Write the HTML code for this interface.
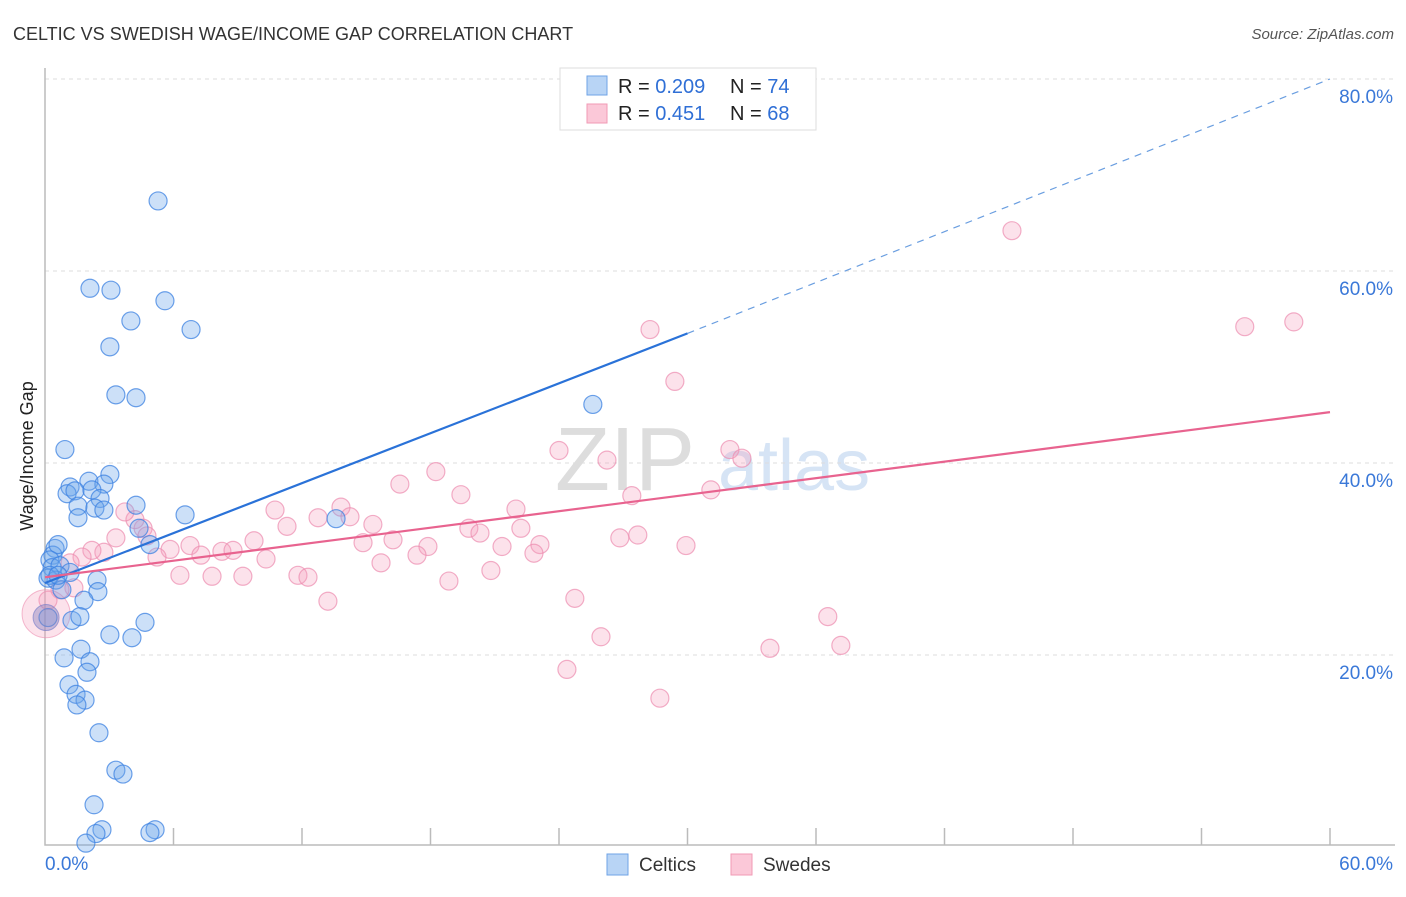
<!DOCTYPE html>
<html><head><meta charset="utf-8"><style>
body{margin:0;background:#fff;font-family:"Liberation Sans",sans-serif;}
svg text{font-family:"Liberation Sans",sans-serif;}
</style></head><body>
<svg id="chart" width="1406" height="892" viewBox="0 0 1406 892">
<text x="13" y="40" font-size="18" fill="#333">CELTIC VS SWEDISH WAGE/INCOME GAP CORRELATION CHART</text>
<text x="1394" y="39" font-size="15" fill="#555" font-style="italic" text-anchor="end">Source: ZipAtlas.com</text>
<text x="33" y="456" font-size="18" fill="#222" text-anchor="middle" transform="rotate(-90 33 456)">Wage/Income Gap</text>
<g><text x="555" y="490" font-size="90" fill="#ddd" font-family="Liberation Serif">ZIP</text><text x="718" y="490" font-size="72" fill="#d6e4f5">atlas</text></g>
<g id="grid"></g><g id="axes"></g><g id="pts"></g><g id="lines"></g>
<g>
<rect x="560" y="68" width="256" height="62" fill="#fff" stroke="#ddd"/>
<rect x="587" y="76" width="20" height="19" fill="#b8d4f5" stroke="#6fa3e6"/>
<rect x="587" y="104" width="20" height="19" fill="#fbc8d8" stroke="#f09ab5"/>
<text x="618" y="93" font-size="20" fill="#222">R = <tspan fill="#2f6fd6">0.209</tspan></text>
<text x="730" y="93" font-size="20" fill="#222">N = <tspan fill="#2f6fd6">74</tspan></text>
<text x="618" y="120" font-size="20" fill="#222">R =  <tspan fill="#2f6fd6">0.451</tspan></text>
<text x="730" y="120" font-size="20" fill="#222">N = <tspan fill="#2f6fd6">68</tspan></text>
</g>
<g>
<rect x="607" y="854" width="21" height="21" fill="#b8d4f5" stroke="#6fa3e6"/>
<text x="639" y="871" font-size="19" fill="#333">Celtics</text>
<rect x="731" y="854" width="21" height="21" fill="#fbc8d8" stroke="#f09ab5"/>
<text x="763" y="871" font-size="19" fill="#333">Swedes</text>
</g>
</svg>
<script>
const yTicks=[20,40,60,80];
const yTickLabels=["20.0%","40.0%","60.0%","80.0%"];
const xTickLabels=["0.0%","60.0%"];
const blueX=[5.28,2.10,3.08,5.60,4.01,6.82,3.03,3.31,4.25,0.93,3.03,2.05,2.75,1.17,1.03,1.40,2.19,2.57,1.54,2.33,2.75,4.25,1.54,6.54,4.39,4.90,13.59,25.58,0.47,0.37,0.61,0.23,0.33,0.70,0.14,0.51,1.17,0.79,2.43,2.47,1.82,1.26,1.63,3.03,4.06,4.67,1.68,0.89,2.10,1.96,1.12,1.45,1.87,1.49,2.52,3.31,3.64,2.29,2.66,2.38,5.14,4.90,1.91,0.14,0.23,0.61];
const blueY=[67.3,58.2,58.0,56.9,54.8,53.9,52.1,47.1,46.8,41.4,38.8,38.1,37.8,37.5,36.8,37.1,37.2,36.3,35.5,35.3,35.1,35.6,34.3,34.6,33.2,31.5,34.2,46.1,31.1,30.4,31.5,29.9,29.1,29.3,28.0,27.8,28.6,26.8,27.8,26.6,25.7,23.6,24.0,22.1,21.8,23.4,20.6,19.7,19.3,18.2,16.9,15.9,15.3,14.8,11.9,8.0,7.6,4.4,1.8,1.4,1.8,1.5,0.4,23.9,28.3,28.3];
const pinkX=[45.15,28.25,56.02,58.31,29.41,24.0,31.98,32.54,26.24,18.25,16.57,19.42,27.40,31.09,21.99,13.82,10.74,14.24,12.75,11.30,15.31,19.79,22.22,20.31,27.68,26.84,23.11,29.93,21.34,17.88,14.85,16.25,17.37,22.83,9.76,6.77,5.84,7.28,8.26,8.78,10.32,15.69,5.23,4.58,4.76,4.20,3.73,3.31,2.75,2.19,1.73,1.17,1.35,6.30,7.80,9.24,11.81,12.28,18.86,20.82,13.21,24.74,25.96,33.85,36.55,37.16,24.37,28.71,0.70,0.14];
const pinkY=[64.2,53.9,54.2,54.7,48.5,41.3,41.4,40.5,40.3,39.1,37.8,36.7,36.6,37.2,35.2,35.4,35.1,34.4,34.3,33.4,33.6,33.2,33.2,32.7,32.5,32.2,31.5,31.4,31.3,31.3,31.7,32.0,30.4,30.6,31.9,31.4,31.0,30.4,30.8,30.9,30.0,29.6,30.2,33.2,32.4,34.1,34.9,32.2,30.7,30.9,30.2,29.6,27.0,28.3,28.2,28.2,28.3,28.1,27.7,28.8,25.6,25.9,21.9,20.7,24.0,21.0,18.5,15.5,26.8,25.7];
const blueTrend=[27.5,53.5,80];   // y at x=0, 30, 60
const pinkTrend=[28.1,45.3];      // y at x=0, 60
const NS="http://www.w3.org/2000/svg";
const X=v=>45+v*(1285/60);
const Y=v=>847-v*9.6;
function mk(tag,attrs,parent){const e=document.createElementNS(NS,tag);for(const k in attrs)e.setAttribute(k,attrs[k]);parent.appendChild(e);return e;}
const grid=document.getElementById('grid'),axes=document.getElementById('axes'),pts=document.getElementById('pts'),lines=document.getElementById('lines');
yTicks.forEach((t,i)=>{
 const l=mk('line',{x1:45,x2:1395,y1:Y(t),y2:Y(t),stroke:'#ddd','stroke-dasharray':'4,4'},grid);
 
 
 const tx=mk('text',{x:1393,y:Y(t)+24,'font-size':19,fill:'#3a78d8','text-anchor':'end'},grid);
 tx.textContent=yTickLabels[i];
 
 
});
const ax=mk('path',{d:'M45 68V845H1395',fill:'none',stroke:'#bbb','stroke-width':1.5},axes);


for(let i=1;i<=10;i++){
 const t=mk('line',{x1:X(i*6),x2:X(i*6),y1:828,y2:845,stroke:'#bbb','stroke-width':1.5},axes);
 
 
}
[[0,'start',45],[60,'end',1393]].forEach((d,i)=>{
 const tx=mk('text',{x:d[2],y:870,'font-size':19,fill:'#3a78d8','text-anchor':d[1]},axes);
 tx.textContent=xTickLabels[i];
 
 
});
pinkX.forEach((x,i)=>{
 const c=mk('circle',{cx:X(x),cy:Y(pinkY[i]),r:9,fill:'rgba(244,160,190,0.3)',stroke:'rgba(236,140,175,0.7)','stroke-width':1.2},pts);
 
 
});
const bp=mk('circle',{cx:X(0.05),cy:Y(24.3),r:24,fill:'rgba(244,160,190,0.3)',stroke:'rgba(236,140,175,0.6)'},pts);


blueX.forEach((x,i)=>{
 const c=mk('circle',{cx:X(x),cy:Y(blueY[i]),r:9,fill:'rgba(110,165,235,0.35)',stroke:'rgba(60,130,225,0.75)','stroke-width':1.2},pts);
 
 
});
const bb=mk('circle',{cx:X(0.05),cy:Y(23.9),r:13,fill:'rgba(140,130,190,0.45)',stroke:'rgba(110,120,200,0.6)'},pts);


const l1=mk('line',{x1:X(0),y1:Y(blueTrend[0]),x2:X(30),y2:Y(blueTrend[1]),stroke:'#2a72d8','stroke-width':2.2},lines);


const l2=mk('line',{x1:X(30),y1:Y(blueTrend[1]),x2:X(60),y2:Y(blueTrend[2]),stroke:'#6a9ee0','stroke-width':1.2,'stroke-dasharray':'7,6'},lines);


const l3=mk('line',{x1:X(0),y1:Y(pinkTrend[0]),x2:X(60),y2:Y(pinkTrend[1]),stroke:'#e8638f','stroke-width':2.2},lines);


</script>
</body></html>
